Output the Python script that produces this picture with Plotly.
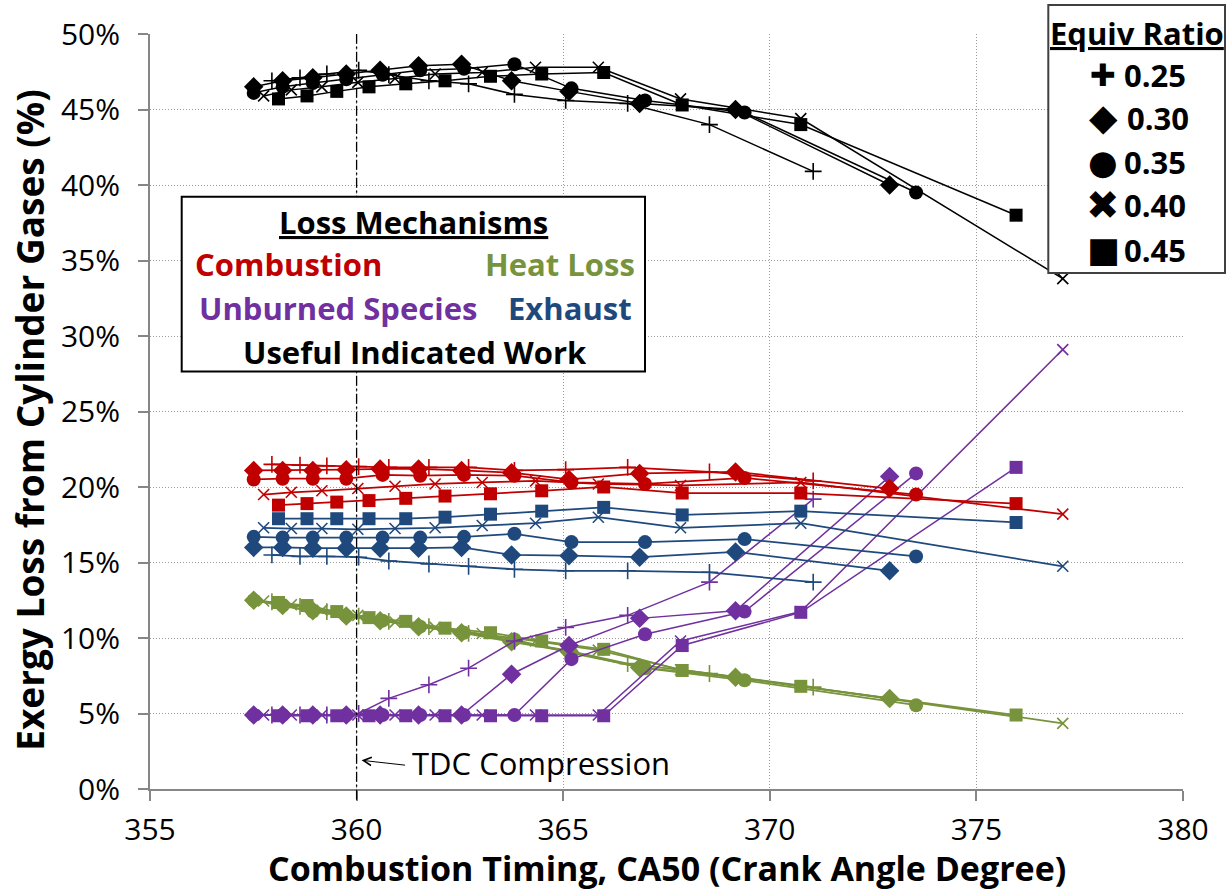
import plotly.graph_objects as go

# Combustion timing (CA50, crank angle degree) of each sweep, per equivalence ratio
ca50_025 = [357.95, 358.63, 359.28, 360.05, 360.78, 361.75, 362.71, 363.82, 365.06, 366.56, 368.54, 371.05]
ca50_030 = [357.51, 358.21, 358.94, 359.75, 360.57, 361.50, 362.54, 363.75, 365.14, 366.85, 369.17, 372.90]
ca50_035 = [357.51, 358.21, 358.94, 359.75, 360.63, 361.54, 362.60, 363.82, 365.20, 366.98, 369.39, 373.54]
ca50_040 = [357.75, 358.42, 359.16, 360.03, 360.93, 361.90, 363.04, 364.33, 365.85, 367.84, 370.75, 377.09]
ca50_045 = [358.11, 358.80, 359.52, 360.30, 361.19, 362.14, 363.24, 364.48, 365.98, 367.88, 370.75, 375.96]

equiv_ratios = ["0.25", "0.30", "0.35", "0.40", "0.45"]

# Exergy (% of cylinder gas exergy), one list per equivalence ratio
useful_work = {
    "0.25": [46.9, 47.1, 47.35, 47.6, 47.3, 46.9, 46.7, 46.0, 45.6, 45.4, 44.0, 40.9],
    "0.30": [46.5, 46.9, 47.1, 47.35, 47.6, 47.9, 48.0, 46.9, 46.2, 45.4, 45.0, 40.0],
    "0.35": [46.1, 46.5, 46.75, 47.0, 47.3, 47.6, 47.7, 48.0, 46.4, 45.6, 44.8, 39.5],
    "0.40": [45.9, 46.3, 46.5, 46.8, 47.05, 47.35, 47.45, 47.8, 47.8, 45.7, 44.4, 33.8],
    "0.45": [45.7, 45.9, 46.2, 46.5, 46.7, 46.9, 47.2, 47.35, 47.45, 45.3, 44.0, 38.0],
}
combustion = {
    "0.25": [21.5, 21.45, 21.4, 21.35, 21.3, 21.3, 21.3, 21.1, 21.15, 21.3, 21.0, 20.4],
    "0.30": [21.1, 21.1, 21.1, 21.15, 21.2, 21.2, 21.1, 20.95, 20.5, 20.9, 21.0, 19.9],
    "0.35": [20.5, 20.55, 20.55, 20.55, 20.8, 20.75, 20.8, 20.75, 20.3, 20.2, 20.6, 19.5],
    "0.40": [19.5, 19.65, 19.75, 19.9, 20.05, 20.2, 20.3, 20.4, 20.2, 20.1, 20.3, 18.2],
    "0.45": [18.8, 18.9, 19.0, 19.1, 19.25, 19.4, 19.55, 19.75, 20.0, 19.6, 19.6, 18.9],
}
exhaust = {
    "0.25": [15.5, 15.4, 15.4, 15.35, 15.1, 14.9, 14.75, 14.55, 14.45, 14.45, 14.35, 13.7],
    "0.30": [16.0, 16.0, 15.95, 15.95, 15.95, 15.95, 16.0, 15.5, 15.45, 15.35, 15.7, 14.45],
    "0.35": [16.7, 16.65, 16.65, 16.65, 16.65, 16.65, 16.7, 16.9, 16.35, 16.35, 16.55, 15.4],
    "0.40": [17.3, 17.25, 17.25, 17.2, 17.25, 17.3, 17.45, 17.6, 18.0, 17.3, 17.6, 14.75],
    "0.45": [17.9, 17.9, 17.9, 17.9, 17.9, 18.0, 18.2, 18.4, 18.65, 18.15, 18.4, 17.65],
}
heat_loss = {
    "0.25": [12.4, 12.1, 11.75, 11.45, 11.1, 10.75, 10.3, 9.8, 9.2, 8.3, 7.65, 6.75],
    "0.30": [12.5, 12.15, 11.8, 11.45, 11.15, 10.75, 10.35, 9.75, 9.1, 8.05, 7.4, 6.0],
    "0.35": [12.5, 12.15, 11.75, 11.45, 11.15, 10.75, 10.35, 9.9, 9.0, 8.0, 7.2, 5.55],
    "0.40": [12.45, 12.2, 11.85, 11.5, 11.05, 10.7, 10.3, 9.8, 9.2, 7.9, 6.8, 4.35],
    "0.45": [12.35, 12.15, 11.75, 11.35, 11.1, 10.65, 10.35, 9.8, 9.25, 7.85, 6.8, 4.9],
}
unburned = {
    "0.25": [4.9, 4.9, 4.9, 5.0, 6.0, 6.9, 8.0, 9.8, 10.7, 11.5, 13.7, 19.2],
    "0.30": [4.9, 4.9, 4.9, 4.9, 4.9, 4.9, 4.9, 7.6, 9.5, 11.3, 11.8, 20.7],
    "0.35": [4.9, 4.9, 4.9, 4.9, 4.9, 4.9, 4.9, 4.9, 8.6, 10.25, 11.75, 20.9],
    "0.40": [4.9, 4.9, 4.9, 4.9, 4.9, 4.9, 4.9, 4.9, 4.9, 9.8, 11.75, 29.1],
    "0.45": [4.85, 4.85, 4.85, 4.85, 4.85, 4.85, 4.85, 4.85, 4.85, 9.5, 11.7, 21.3],
}

x_ticks = [355, 360, 365, 370, 375, 380]
y_ticks = [0, 5, 10, 15, 20, 25, 30, 35, 40, 45, 50]
tdc_angle = 360

ca50 = {"0.25": ca50_025, "0.30": ca50_030, "0.35": ca50_035, "0.40": ca50_040, "0.45": ca50_045}

RED, GREEN, PURPLE, BLUE, BLACK = "#C00000", "#77933C", "#7030A0", "#1F497D", "#000000"
FONT = "Open Sans"

markers = {
    "0.25": dict(symbol="cross-thin", size=12, thin=True),
    "0.30": dict(symbol="diamond", size=15, thin=False),
    "0.35": dict(symbol="circle", size=14, thin=False),
    "0.40": dict(symbol="x-thin", size=11, thin=True),
    "0.45": dict(symbol="square", size=13, thin=False),
}

fig = go.Figure()

groups = [
    (heat_loss, GREEN, 1.75),
    (unburned, PURPLE, 1.5),
    (exhaust, BLUE, 1.75),
    (combustion, RED, 1.75),
    (useful_work, BLACK, 1.5),
]
for values, color, lw in groups:
    for phi in equiv_ratios:
        m = markers[phi]
        fig.add_trace(go.Scatter(
            x=ca50[phi], y=values[phi], mode="lines+markers",
            line=dict(color=color, width=lw),
            marker=dict(symbol=m["symbol"], size=m["size"], color=color,
                        line=dict(color=color, width=1.6 if m["thin"] else 0)),
            showlegend=False, hoverinfo="skip",
        ))

# plot-area geometry in pixels, used to place the hand-drawn legends
L, R, T, B = 150, 1183, 34, 789.3
def px(xp):
    return (xp - L) / (R - L)
def py(yp):
    return (B - yp) / (B - T)

shapes = [
    # TDC reference line
    dict(type="line", xref="x", yref="paper", x0=tdc_angle, x1=tdc_angle, y0=py(800), y1=1,
         line=dict(color="black", width=1.3, dash="10px,3px,2px,3px")),
    # loss mechanism legend box
    dict(type="rect", xref="paper", yref="paper", x0=px(181.7), x1=px(645), y0=py(371.7), y1=py(196.7),
         line=dict(color="black", width=2), fillcolor="white", layer="above"),
    # equivalence ratio legend box
    dict(type="rect", xref="paper", yref="paper", x0=px(1048.3), x1=px(1225), y0=py(273), y1=py(5),
         line=dict(color="#404040", width=2), fillcolor="white", layer="above"),
]

def label(text, xp, yp, color="black", size=31, anchor="left", family=FONT):
    return dict(text=text, xref="paper", yref="paper", x=px(xp), y=py(yp),
                xanchor=anchor, yanchor="middle", showarrow=False,
                font=dict(family=family, size=size, color=color))

annotations = [
    label("<u><b>Loss Mechanisms</b></u>", 413, 222, anchor="center"),
    label("<b>Combustion</b>", 193, 264, RED),
    label("<b>Heat Loss</b>", 637, 264, GREEN, anchor="right"),
    label("<b>Unburned Species</b>", 197, 308, PURPLE),
    label("<b>Exhaust</b>", 634, 308, BLUE, anchor="right"),
    label("<b>Useful Indicated Work</b>", 415, 352, anchor="center"),
    label("<u><b>Equiv Ratio</b></u>", 1137, 33, anchor="center"),
]
symbols = ["✚", "◆", "●", "✖", "■"]
symbol_sizes = [31, 37, 34, 40, 35]
rows_y = [75, 118, 162, 205, 250]
for phi, sym, ssz, yrow in zip(equiv_ratios, symbols, symbol_sizes, rows_y):
    annotations.append(label(sym, 1103, yrow, size=ssz, anchor="center", family="DejaVu Sans"))
    annotations.append(label("<b>" + phi + "</b>", 1122 if phi != "0.30" else 1125, yrow))

# TDC arrow and note
annotations.append(dict(x=360.12, y=1.9, xref="x", yref="y", text="", showarrow=True,
                        ax=45, ay=5, arrowhead=5, arrowsize=1.6, arrowwidth=1, arrowcolor="black"))
annotations.append(dict(x=361.3, y=1.75, xref="x", yref="y", text="TDC Compression",
                        xanchor="left", yanchor="middle", showarrow=False,
                        font=dict(family=FONT, size=31, color="black")))

# axis titles
annotations.append(dict(text="<b>Combustion Timing, CA50 (Crank Angle Degree)</b>", xref="paper", yref="paper",
                        x=0.5, y=py(868), xanchor="center", yanchor="middle", showarrow=False,
                        font=dict(family=FONT, size=34, color="black")))
annotations.append(dict(text="<b>Exergy Loss from Cylinder Gases (%)</b>", xref="paper", yref="paper",
                        x=px(30), y=py(420), xanchor="center", yanchor="middle", textangle=-90, showarrow=False,
                        font=dict(family=FONT, size=37, color="black")))

axis_common = dict(showline=True, linecolor="#868686", linewidth=2, ticks="outside", ticklen=10,
                   tickcolor="#868686", tickwidth=2, showgrid=True, gridcolor="#9A9A9A", gridwidth=1,
                   griddash="1px,2px", zeroline=False, tickfont=dict(family=FONT, size=30, color="black"))

fig.update_layout(
    width=1231, height=890, margin=dict(l=150, r=48, t=34, b=101),
    paper_bgcolor="white", plot_bgcolor="white",
    xaxis=dict(range=[355, 380], tickvals=x_ticks, ticklabelstandoff=3, **axis_common),
    yaxis=dict(range=[0, 50], tickvals=y_ticks, ticktext=[f"{v}%" for v in y_ticks],
               ticklabelstandoff=12, **axis_common),
    shapes=shapes, annotations=annotations,
)

fig.write_html("out.html")
